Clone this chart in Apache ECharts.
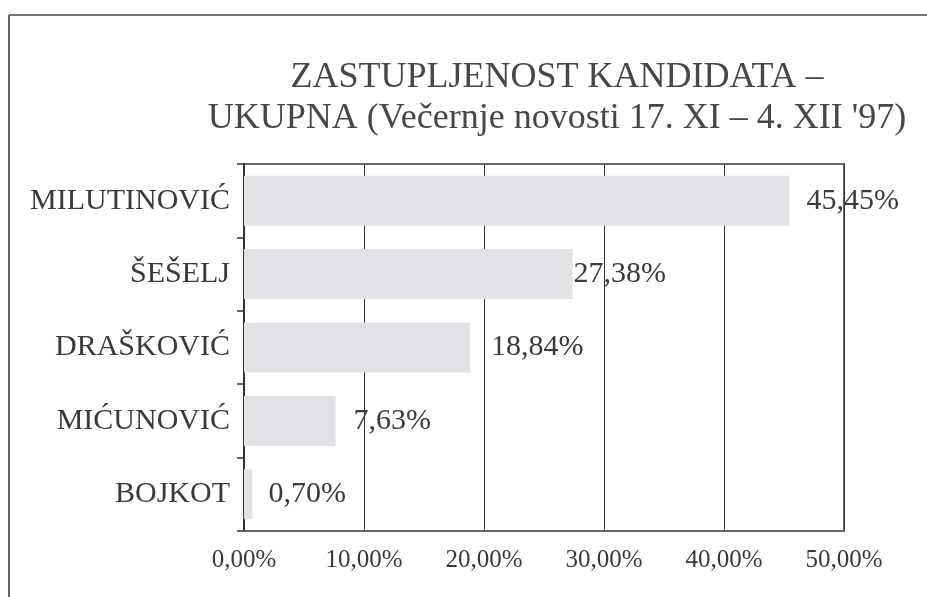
<!DOCTYPE html>
<html>
<head>
<meta charset="utf-8">
<script src="https://cdn.jsdelivr.net/npm/echarts@6/dist/echarts.min.js"></script>
<style>
html,body{margin:0;padding:0;background:#fff;}
#chart{width:927px;height:597px;}
</style>
</head>
<body>
<div id="chart"></div>
<script>
const titleLines = ['ZASTUPLJENOST KANDIDATA –', "UKUPNA (Večernje novosti 17. XI – 4. XII '97)"];
const categories = ['MILUTINOVIĆ', 'ŠEŠELJ', 'DRAŠKOVIĆ', 'MIĆUNOVIĆ', 'BOJKOT'];
const shares = [45.45, 27.38, 18.84, 7.63, 0.70];
const xTicks = [0, 10, 20, 30, 40, 50];

const FONT = '"Liberation Serif", "Times New Roman", serif';
const fmt = v => v.toFixed(2).replace('.', ',') + '%';
const labelGap = [17, 1, 21, 18, 16];

const chart = echarts.init(document.getElementById('chart'), null, {renderer: 'canvas'});
chart.setOption({
  backgroundColor: '#ffffff',
  animation: false,
  title: {
    text: titleLines.join('\n'),
    left: 552,
    top: 52,
    textAlign: 'center',
    textStyle: {
      fontFamily: FONT,
      fontSize: 36,
      fontWeight: 'normal',
      color: '#474747',
      lineHeight: 41
    }
  },
  graphic: [
    {type: 'line', shape: {x1: 9, y1: 15, x2: 9, y2: 597}, style: {stroke: '#666', lineWidth: 2}},
    {type: 'line', shape: {x1: 9, y1: 15, x2: 927, y2: 15}, style: {stroke: '#777', lineWidth: 2}}
  ],
  grid: {
    left: 244, right: 83, top: 164, bottom: 66,
    show: true,
    borderColor: '#666',
    borderWidth: 2,
    containLabel: false
  },
  xAxis: {
    type: 'value',
    min: xTicks[0],
    max: xTicks[xTicks.length - 1],
    interval: xTicks[1] - xTicks[0],
    axisLine: {show: true, lineStyle: {color: '#666', width: 2}},
    axisTick: {show: false},
    splitLine: {show: true, lineStyle: {color: '#333', width: 1}},
    axisLabel: {
      formatter: v => fmt(v),
      fontFamily: FONT,
      fontSize: 25,
      color: '#3a3a3a',
      margin: 17
    }
  },
  yAxis: {
    type: 'category',
    inverse: true,
    data: categories,
    axisLine: {show: true, lineStyle: {color: '#333', width: 2}},
    axisTick: {show: true, length: 7, lineStyle: {color: '#333', width: 1.5}},
    axisLabel: {
      fontFamily: FONT,
      fontSize: 30,
      color: '#3a3a3a',
      margin: 14
    }
  },
  series: [{
    type: 'bar',
    barWidth: 50,
    data: shares.map((v, i) => ({value: v, label: {distance: labelGap[i]}})),
    itemStyle: {color: '#e1e2e6'},
    label: {
      show: true,
      position: 'right',
      formatter: p => fmt(p.value),
      fontFamily: FONT,
      fontSize: 30,
      color: '#3a3a3a'
    }
  }]
});
</script>
</body>
</html>
